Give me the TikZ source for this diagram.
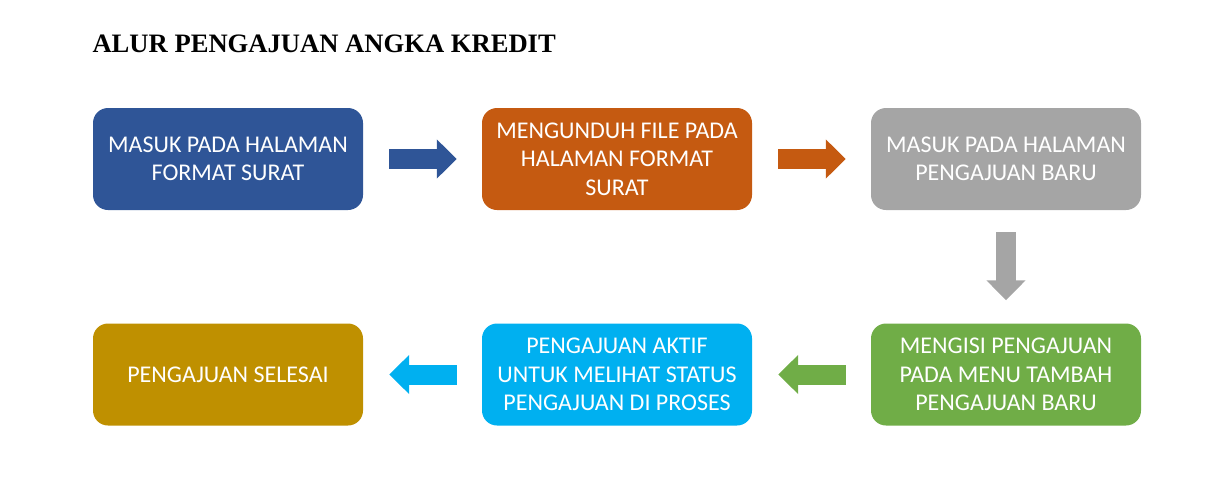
\documentclass[tikz,border=0pt]{standalone}
\usepackage{fontspec}
\setmainfont{Liberation Serif}
\newfontfamily\boxfont{Carlito}
\usetikzlibrary{arrows.meta}
\usetikzlibrary{positioning}
\definecolor{stepblue}{HTML}{2F5597}
\definecolor{steporange}{HTML}{C55A11}
\definecolor{stepgray}{HTML}{A5A5A5}
\definecolor{stepgreen}{HTML}{70AD47}
\definecolor{stepcyan}{HTML}{00B0F0}
\definecolor{stepgold}{HTML}{BF9000}

\begin{document}
\begin{tikzpicture}[x=1pt,y=-1pt,
    step box/.style={rectangle,rounded corners=15pt,minimum width=270pt,minimum height=102pt,
      inner sep=0pt,text=white,align=center,font=\boxfont\fontsize{24}{28.5}\selectfont},
    block arrow/.style={line width=20pt,-{Triangle[width=38pt,length=20pt]}}]
   \useasboundingbox (0,0) rectangle (1225,482);
   \node[anchor=base west,font=\bfseries\fontsize{26.6}{30}\selectfont] (title) at (89,52) {ALUR PENGAJUAN ANGKA KREDIT};
   % top row
   \node[step box,fill=stepblue] (masuk) at (228,159) {MASUK PADA HALAMAN\\FORMAT SURAT};
   \node[step box,fill=steporange] (unduh) at (617,159) {MENGUNDUH FILE PADA\\HALAMAN FORMAT\\SURAT};
   \node[step box,fill=stepgray] (baru) at (1006,159) {MASUK PADA HALAMAN\\PENGAJUAN BARU};
   % bottom row
   \node[step box,fill=stepgreen] (isi) at (1006,374.5) {MENGISI PENGAJUAN\\PADA MENU TAMBAH\\PENGAJUAN BARU};
   \node[step box,fill=stepcyan] (aktif) at (617,374.5) {PENGAJUAN AKTIF\\UNTUK MELIHAT STATUS\\PENGAJUAN DI PROSES};
   \node[step box,fill=stepgold] (selesai) at (228,374.5) {PENGAJUAN SELESAI};
   % arrows
   \draw[block arrow,stepblue,shorten <=26pt,shorten >=25pt] (masuk) -- (unduh);
   \draw[block arrow,steporange,shorten <=26pt,shorten >=25pt] (unduh) -- (baru);
   \draw[block arrow,stepgray,shorten <=22pt,shorten >=23pt] (baru) -- (isi);
   \draw[block arrow,stepgreen,shorten <=25pt,shorten >=26pt] (isi) -- (aktif);
   \draw[block arrow,stepcyan,shorten <=25pt,shorten >=26pt] (aktif) -- (selesai);
\end{tikzpicture}
\end{document}
